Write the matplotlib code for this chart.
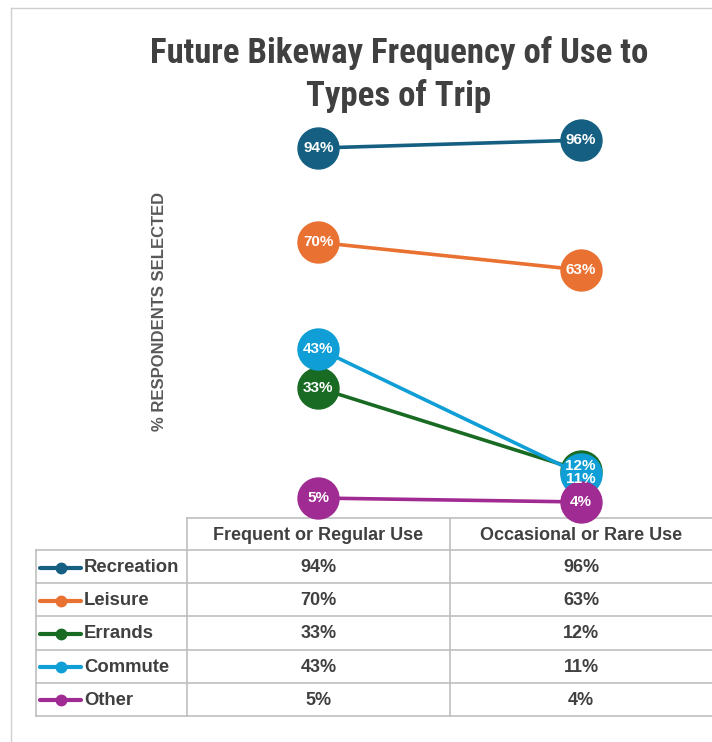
import matplotlib
matplotlib.use('Agg')
import matplotlib.pyplot as plt
from matplotlib import font_manager

# data
categories = ['Frequent or Regular Use', 'Occasional or Rare Use']
series = ['Recreation', 'Leisure', 'Errands', 'Commute', 'Other']
recreation = [94, 96]
leisure = [70, 63]
errands = [33, 12]
commute = [43, 11]
other = [5, 4]
colors = ['#156082', '#E97132', '#196B24', '#0F9ED5', '#A02B93']


def pick(*names):
    avail = {f.name for f in font_manager.fontManager.ttflist}
    for n in names:
        if n in avail:
            return n
    return 'DejaVu Sans'


title_font = pick('Liberation Sans Narrow', 'Roboto Condensed', 'Liberation Sans')
body_font = pick('Liberation Sans', 'Arial', 'DejaVu Sans')
dark = '#404040'
grid = '#BFBFBF'

W, H = 712, 742
fig = plt.figure(figsize=(W / 100, H / 100), dpi=100)

# pixel-space layer for title, frame and data table
tab = fig.add_axes([0, 0, 1, 1])
tab.set_xlim(0, W)
tab.set_ylim(H, 0)
tab.axis('off')

tab.plot([11, 11], [8, H], color='#D0D0D0', lw=1)
tab.plot([11, W], [8, 8], color='#D0D0D0', lw=1)

tab.text(399, 63, 'Future Bikeway Frequency of Use to', ha='center', va='baseline',
         fontsize=25, fontweight='bold', color=dark, family=title_font)
tab.text(399, 106, 'Types of Trip', ha='center', va='baseline',
         fontsize=25, fontweight='bold', color=dark, family=title_font)

fig.text(160 / W, 1 - 311 / H, '% RESPONDENTS SELECTED', rotation=90, ha='center', va='center',
         fontsize=12, fontweight='bold', color='#595959', family=body_font)

# table grid
col_x = [36, 187, 450, W]
head_top, head_bot = 518, 550
row_h = 33.2
row_y = [head_bot + i * row_h for i in range(len(series) + 1)]
tab.plot([187, W], [head_top, head_top], color=grid, lw=1.2)
for y in row_y:
    tab.plot([36, W], [y, y], color=grid, lw=1.2)
tab.plot([36, 36], [head_bot, row_y[-1]], color=grid, lw=1.2)
for x in col_x[1:3]:
    tab.plot([x, x], [head_top, row_y[-1]], color=grid, lw=1.2)

for j, cat in enumerate(categories):
    cx = (col_x[j + 1] + col_x[j + 2]) / 2
    tab.text(cx, (head_top + head_bot) / 2 + 1, cat, ha='center', va='center',
             fontsize=13, fontweight='bold', color=dark, family=body_font)

values = [recreation, leisure, errands, commute, other]
for i, (name, vals, col) in enumerate(zip(series, values, colors)):
    cy = (row_y[i] + row_y[i + 1]) / 2 + 1
    tab.plot([40, 81], [cy, cy], color=col, lw=3, solid_capstyle='round')
    tab.plot([60.5], [cy], 'o', color=col, ms=7.5)
    tab.text(84, cy, name, ha='left', va='center', fontsize=13.3, fontweight='bold',
             color=dark, family=body_font)
    for j, v in enumerate(vals):
        cx = (col_x[j + 1] + col_x[j + 2]) / 2
        tab.text(cx, cy, f'{v}%', ha='center', va='center', fontsize=13,
                 fontweight='bold', color=dark, family=body_font)

# slope chart
ax = fig.add_axes([187 / W, 1 - 517.7 / H, (W - 187) / W, (517.7 - 124.4) / H])
ax.set_xlim(-0.5, 1.5)
ax.set_ylim(0, 100)
ax.axis('off')

xs = list(range(len(categories)))
for i, (vals, col) in enumerate(zip(values, colors)):
    ax.plot(xs, vals, color=col, lw=2.6, marker='o', ms=29.5, mec=col,
            zorder=3 + i, clip_on=False)

# nudge labels apart where two points nearly coincide
for j in xs:
    col_vals = [v[j] for v in values]
    for i, v in enumerate(col_vals):
        off = 0
        for k, w in enumerate(col_vals):
            if k != i and abs(w - v) < 3:
                off = 3.5 if v > w else -3.5
        ax.annotate(f'{v}%', (j, v), xytext=(0, off), textcoords='offset points',
                    ha='center', va='center', color='white', fontsize=11,
                    fontweight='bold', family=body_font, zorder=20,
                    annotation_clip=False)

fig.savefig('out.png', dpi=100)
